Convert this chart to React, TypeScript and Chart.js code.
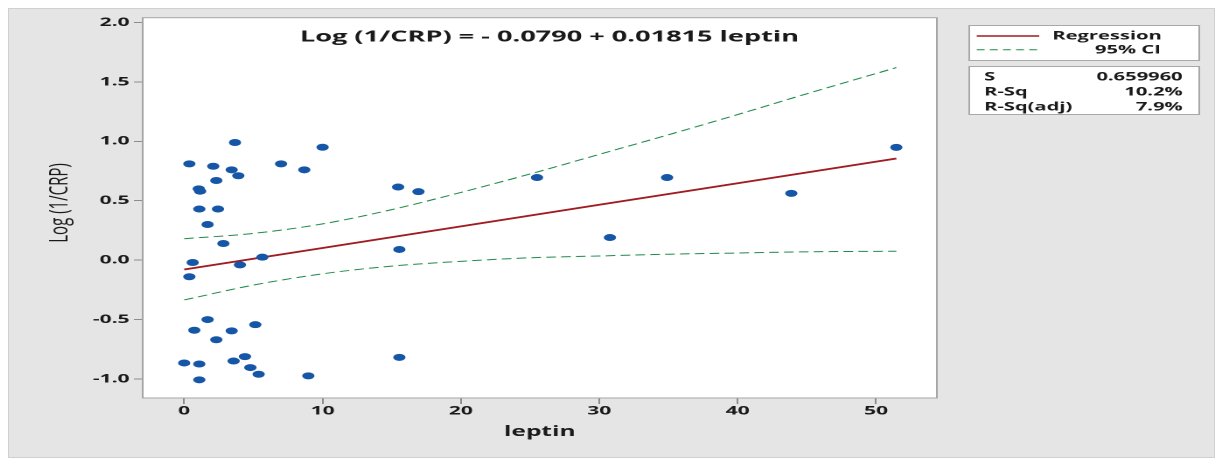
import React, { useEffect, useRef } from "react";
import { Chart, registerables } from "chart.js";

Chart.register(...registerables);

// ---- data ----
const leptin = [
  3.67, 0.37, 2.1, 3.43, 3.91, 2.32, 1.05, 1.15, 1.09, 2.44,
  1.69, 2.83, 0.61, 0.37, 4.03, 5.65, 7.0, 8.68, 10.0, 15.46,
  16.93, 15.55, 1.69, 0.73, 2.32, 3.43, 5.14, 0.0, 1.09, 3.57,
  4.39, 4.78, 5.38, 1.09, 8.97, 15.55, 25.5, 34.9, 30.77, 43.88,
  51.47,
];
const logInvCRP = [
  0.99, 0.81, 0.79, 0.76, 0.71, 0.67, 0.6, 0.58, 0.43, 0.43,
  0.3, 0.14, -0.02, -0.14, -0.04, 0.025, 0.81, 0.76, 0.95, 0.615,
  0.576, 0.09, -0.5, -0.59, -0.67, -0.595, -0.543, -0.865, -0.874, -0.849,
  -0.812, -0.904, -0.96, -1.007, -0.974, -0.818, 0.695, 0.695, 0.19, 0.562,
  0.949,
];
const fitLeptin = [0, 10, 20, 30, 40, 51.47];
const fitValues = [-0.079, 0.102, 0.284, 0.466, 0.647, 0.855];
const ciLeptin = [0, 5, 10, 15, 20, 25, 30, 35, 40, 45, 51.47];
const ciUpper = [0.18, 0.225, 0.305, 0.425, 0.57, 0.725, 0.89, 1.055, 1.225, 1.4, 1.62];
const ciLower = [-0.335, -0.21, -0.115, -0.05, -0.01, 0.02, 0.035, 0.05, 0.06, 0.07, 0.075];
const xTickValues = [0, 10, 20, 30, 40, 50];
const yTickValues = [-1, -0.5, 0, 0.5, 1, 1.5, 2];
const titleText = "Log (1/CRP) = - 0.0790 + 0.01815 leptin";
const xTitle = "leptin";
const yTitle = "Log (1/CRP)";
const legendLabels = ["Regression", "95% CI"];
const statNames = ["S", "R-Sq", "R-Sq(adj)"];
const statValues = ["0.659960", "10.2%", "7.9%"];

// ---- layout / style ----
const FONT = '"Open Sans", "Noto Sans", sans-serif';
const TEXT = "#1a1a1a";
const LOGICAL_W = 690;
const H = 450;
const PANEL_W = 1207;
const RED = "#a01c22";
const GREEN = "#1f8a4c";
const BLUE = "#1656a6";

const decor = {
  id: "decor",
  beforeDraw(chart: any) {
    const { ctx, chartArea: a } = chart;
    ctx.save();
    ctx.fillStyle = "#ffffff";
    ctx.fillRect(a.left, a.top, a.right - a.left, a.bottom - a.top);
    ctx.restore();
  },
  afterDraw(chart: any) {
    const { ctx, chartArea: a } = chart;
    ctx.save();
    // plot frame
    ctx.strokeStyle = "#a6a6a6";
    ctx.lineWidth = 1;
    ctx.strokeRect(a.left, a.top, a.right - a.left, a.bottom - a.top);

    // title
    ctx.fillStyle = TEXT;
    ctx.font = `bold 15.5px ${FONT}`;
    ctx.textAlign = "center";
    ctx.textBaseline = "alphabetic";
    ctx.fillText(titleText, 309.5, 33.6);

    // y axis title
    ctx.save();
    ctx.translate(29.7, 195);
    ctx.rotate(-Math.PI / 2);
    ctx.font = `15px ${FONT}`;
    ctx.textAlign = "center";
    ctx.textBaseline = "middle";
    ctx.fillText(yTitle, 0, 0);
    ctx.restore();

    // legend box
    const bx0 = 549, bx1 = 680.5;
    ctx.fillStyle = "#ffffff";
    ctx.strokeStyle = "#a8a8a8";
    ctx.fillRect(bx0, 17, bx1 - bx0, 35);
    ctx.strokeRect(bx0 + 0.5, 17.5, bx1 - bx0, 35);
    ctx.fillRect(bx0, 58, bx1 - bx0, 48);
    ctx.strokeRect(bx0 + 0.5, 58.5, bx1 - bx0, 48);

    ctx.strokeStyle = RED;
    ctx.lineWidth = 1.6;
    ctx.beginPath();
    ctx.moveTo(553.8, 28);
    ctx.lineTo(589.5, 28);
    ctx.stroke();
    ctx.strokeStyle = GREEN;
    ctx.lineWidth = 1;
    ctx.setLineDash([4.5, 3]);
    ctx.beginPath();
    ctx.moveTo(553.8, 41.7);
    ctx.lineTo(589.5, 41.7);
    ctx.stroke();
    ctx.setLineDash([]);

    ctx.fillStyle = TEXT;
    ctx.font = `bold 11.5px ${FONT}`;
    ctx.textAlign = "left";
    ctx.fillText(legendLabels[0], 597, 31.5);
    ctx.textAlign = "right";
    ctx.fillText(legendLabels[1], 659, 45.5);

    const baselines = [72.3, 87.3, 102.3];
    statNames.forEach((n, i) => {
      ctx.textAlign = "left";
      ctx.fillText(n, 558, baselines[i]);
      ctx.textAlign = "right";
      ctx.fillText(statValues[i], 671.5, baselines[i]);
    });
    ctx.restore();
  },
};

export default function App() {
  const ref = useRef<HTMLCanvasElement | null>(null);
  useEffect(() => {
    if (!ref.current) return;
    const chart = new Chart(ref.current, {
      type: "scatter",
      data: {
        datasets: [
          {
            label: "points",
            data: leptin.map((x, i) => ({ x, y: logInvCRP[i] })),
            pointRadius: 3.5,
            pointHoverRadius: 3.5,
            pointBackgroundColor: BLUE,
            pointBorderWidth: 0,
            showLine: false,
          },
          {
            label: legendLabels[0],
            data: fitLeptin.map((x, i) => ({ x, y: fitValues[i] })),
            showLine: true,
            borderColor: RED,
            borderWidth: 1.8,
            pointRadius: 0,
          },
          {
            label: legendLabels[1],
            data: ciLeptin.map((x, i) => ({ x, y: ciUpper[i] })),
            showLine: true,
            borderColor: GREEN,
            borderWidth: 1,
            borderDash: [5.5, 3],
            pointRadius: 0,
            cubicInterpolationMode: "monotone",
          },
          {
            label: legendLabels[1] + " lower",
            data: ciLeptin.map((x, i) => ({ x, y: ciLower[i] })),
            showLine: true,
            borderColor: GREEN,
            borderWidth: 1,
            borderDash: [5.5, 3],
            pointRadius: 0,
            cubicInterpolationMode: "monotone",
          },
        ],
      },
      options: {
        animation: false,
        responsive: false,
        devicePixelRatio: 2,
        events: [],
        layout: { padding: { left: 0, top: 7, right: 159, bottom: 0 } },
        plugins: {
          legend: { display: false },
          tooltip: { enabled: false },
          title: { display: false },
        },
        scales: {
          x: {
            type: "linear",
            position: "bottom",
            min: -3,
            max: 54.4,
            afterBuildTicks: (s: any) => {
              s.ticks = xTickValues.map((v) => ({ value: v }));
            },
            afterFit: (s: any) => {
              s.height = 60;
            },
            ticks: {
              font: { family: FONT, size: 12, weight: "bold" },
              color: TEXT,
              padding: 0,
              maxRotation: 0,
              autoSkip: false,
              callback: (v: any) => String(v),
            },
            grid: { drawOnChartArea: false, tickLength: 6, color: "#8c8c8c" },
            border: { display: false },
            title: {
              display: true,
              text: xTitle,
              color: TEXT,
              font: { family: FONT, size: 14, weight: "bold" },
              padding: { top: 0, bottom: 17.6 },
            },
          },
          y: {
            type: "linear",
            min: -1.16,
            max: 2.04,
            afterBuildTicks: (s: any) => {
              s.ticks = yTickValues.map((v) => ({ value: v }));
            },
            afterFit: (s: any) => {
              s.width = 77;
            },
            ticks: {
              font: { family: FONT, size: 12, weight: "bold" },
              color: TEXT,
              padding: 2.5,
              autoSkip: false,
              callback: (v: any) => Number(v).toFixed(1),
            },
            grid: { drawOnChartArea: false, tickLength: 5, color: "#8c8c8c" },
            border: { display: false },
            title: { display: false },
          },
        },
      },
      plugins: [decor],
    } as any);
    return () => chart.destroy();
  }, []);

  return (
    <div
      style={{
        position: "relative",
        width: PANEL_W,
        height: H,
        background: "#e5e5e5",
        boxShadow: "inset 0 0 0 1px #d0d0d0",
      }}
    >
      <canvas
        ref={ref}
        width={LOGICAL_W}
        height={H}
        style={{ position: "absolute", left: 0, top: 0, width: PANEL_W + "px", height: H + "px" }}
      />
    </div>
  );
}
